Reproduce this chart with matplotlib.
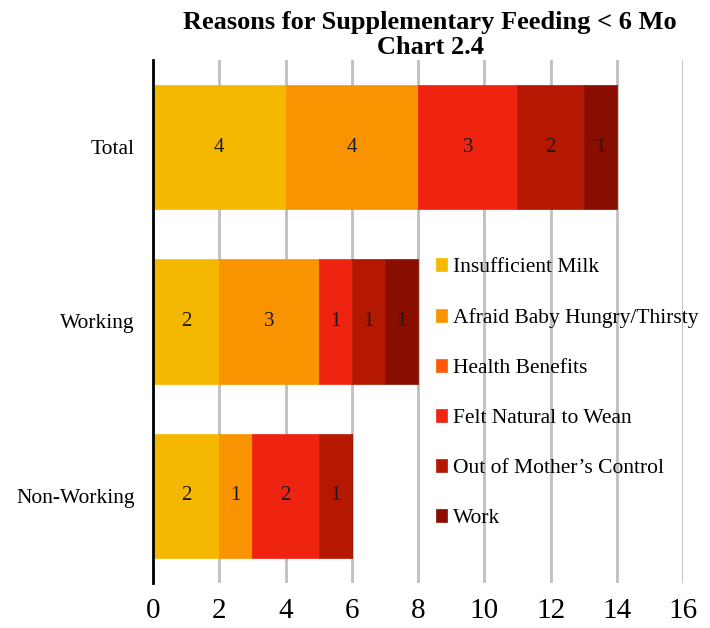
import matplotlib
matplotlib.use("Agg")
import matplotlib.pyplot as plt
import numpy as np

plt.rcParams["font.family"] = ["Liberation Serif", "DejaVu Serif"]

groups = ["Total", "Working", "Non-Working"]
series = [
    "Insufficient Milk",
    "Afraid Baby Hungry/Thirsty",
    "Health Benefits",
    "Felt Natural to Wean",
    "Out of Mother\u2019s Control",
    "Work",
]
values = [
    [4, 2, 2],
    [4, 3, 1],
    [0, 0, 0],
    [3, 1, 2],
    [2, 1, 1],
    [1, 1, 0],
]
colors = ["#F5B800", "#FA9300", "#FF5A0A", "#EE2410", "#B51800", "#8A0E00"]

fig = plt.figure(figsize=(7.1, 6.28), dpi=100)
ax = fig.add_axes([0.2155, 0.0717, 0.7465, 0.8328])

y = np.arange(len(groups))
left = np.zeros(len(groups))
for name, vals, col in zip(series, values, colors):
    vals = np.array(vals, dtype=float)
    bars = ax.barh(y, vals, left=left, height=0.714, color=col, label=name,
                   edgecolor=col, linewidth=0.5, zorder=3)
    ax.bar_label(bars, labels=[f"{int(v)}" if v > 0 else "" for v in vals],
                 label_type="center", fontsize=15, color="#1a1a1a")
    left += vals

ax.set_xlim(0, 16)
ax.set_ylim(2.5, -0.5)
ax.set_xticks(range(0, 17, 2))
ax.set_yticks(y)
ax.set_yticklabels(groups)
ax.tick_params(axis="x", length=0, pad=11, labelsize=21)
ax.tick_params(axis="y", length=0, pad=13, labelsize=15.5)
ax.grid(axis="x", color="#BFBFBF", linewidth=2, zorder=0)
ax.set_axisbelow(True)
for s in ["top", "right", "bottom"]:
    ax.spines[s].set_visible(False)
ax.spines["left"].set_linewidth(2)
ax.spines["left"].set_zorder(4)

fig.text(0.606, 1 - 22 / 628, "Reasons for Supplementary Feeding < 6 Mo",
         ha="center", va="center", fontsize=19, fontweight="bold")
fig.text(0.606, 1 - 47 / 628, "Chart 2.4",
         ha="center", va="center", fontsize=19, fontweight="bold")

ax.legend(loc="upper left", bbox_to_anchor=(0.534, 0.621), frameon=False,
          fontsize=15.5, handlelength=0.5, handleheight=0.5, handletextpad=0.3,
          labelspacing=1.44, borderaxespad=0, borderpad=0)

fig.savefig("out.png", dpi=100)
